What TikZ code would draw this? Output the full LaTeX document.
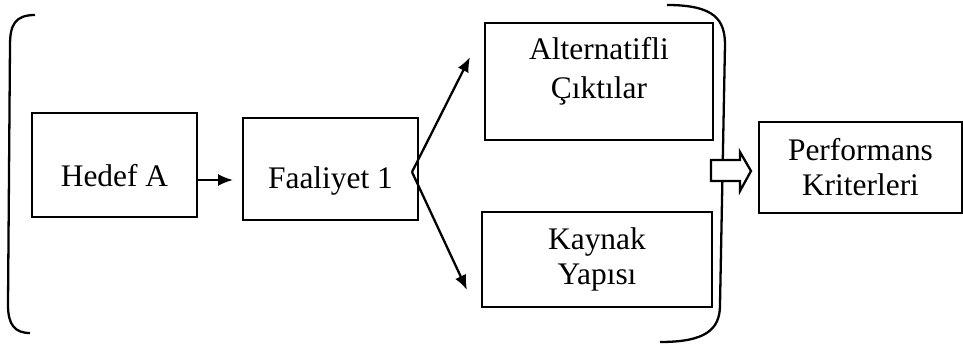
\documentclass[tikz,border=0pt]{standalone}
\usepackage{fontspec}
\setmainfont{Liberation Serif}
\usetikzlibrary{arrows.meta}
\tikzset{
  kutu/.style={draw,line width=0.8pt,align=center,inner sep=0pt,
    font=\fontsize{11}{12.3}\selectfont},
}
\begin{document}
\begin{tikzpicture}[x=0.35pt,y=-0.35pt,>={Latex[length=5.2pt,width=4.2pt]}]
   \useasboundingbox (0,0) rectangle (963,346);
   %left bracket
   \draw[line width=0.8pt] (35,15) .. controls (15,15) and (10,25) .. (10,45) -- (8,305) .. controls (8,325) and (15,333) .. (30,333);
   %right bracket
   \draw[line width=0.8pt] (667,5) .. controls (715,5) and (725,20) .. (725,45) -- (720,305) .. controls (720,330) and (705,342) .. (660,342);
   %boxes
   \node[kutu,minimum width=57.8pt,minimum height=36.4pt] (hedef) at (114.5,165) {\raisebox{-3.6pt}[\height][\depth]{Hedef A}};
   \node[kutu,minimum width=61.3pt,minimum height=35.7pt] (faaliyet) at (330.5,169) {\raisebox{-4.3pt}[\height][\depth]{Faaliyet 1}};
   \node[kutu,minimum width=79.8pt,minimum height=41pt,font=\fontsize{11}{13.7}\selectfont] (cikti) at (599,81.5)
     {\raisebox{3.5pt}[\height][\depth]{\begin{tabular}{@{}c@{}}Alternatifli\\Çıktılar\end{tabular}}};
   \node[kutu,minimum width=80.5pt,minimum height=33.3pt] (kaynak) at (597,259.5) {Kaynak\\Yapısı};
   \node[kutu,minimum width=71pt,minimum height=31.9pt] (perf) at (860.5,167.5) {Performans\\Kriterleri};
   %arrows
   \coordinate (hson) at (233,180);
   \draw[->,line width=0.8pt] (hedef.east |- hson) -- (hson);
   \coordinate (ayrim) at (412,172);
   \coordinate (ust) at (470,57);
   \coordinate (alt) at (467,290);
   \draw[->,line width=0.8pt] (ayrim) -- (ust);
   \draw[->,line width=0.8pt] (ayrim) -- (alt);
   %block arrow
   \draw[line width=0.8pt,fill=white] (711,160) -- (740,160) -- (740,152) -- (751,171) -- (740,191) -- (740,181) -- (711,181) -- cycle;
\end{tikzpicture}
\end{document}
